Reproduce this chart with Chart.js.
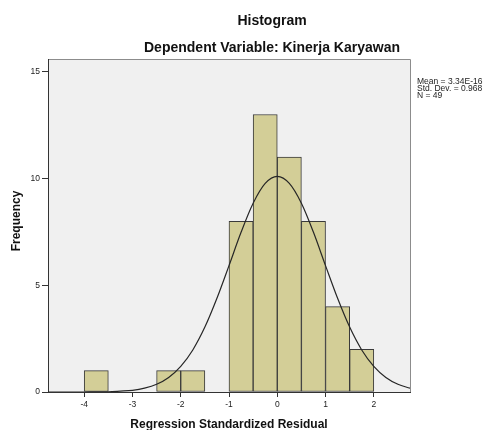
<!DOCTYPE html>
<html>
<head>
<meta charset="utf-8">
<script src="https://cdn.jsdelivr.net/npm/chart.js@4/dist/chart.umd.min.js"></script>
<style>
  html, body { margin: 0; padding: 0; background: #ffffff; }
  #wrap { width: 489px; height: 430px; position: relative; }
</style>
</head>
<body>
<div id="wrap"><canvas id="c" width="489" height="430"></canvas></div>
<script>
// ---- data ----
const binCenters = [-3.75, -2.25, -1.75, -0.75, -0.25, 0.25, 0.75, 1.25, 1.75];
const binCounts  = [1, 1, 1, 8, 13, 11, 8, 4, 2];

// normal curve overlay
const curveX = [-4.75, -4.5, -4.25, -4, -3.75, -3.5, -3.25, -3, -2.75, -2.5, -2.25, -2, -1.75, -1.5, -1.25, -1,
                -0.75, -0.5, -0.25, 0, 0.25, 0.5, 0.75, 1, 1.25, 1.5, 1.75, 2, 2.25, 2.5, 2.75];
const curveY = [0.00, 0.00, 0.00, 0.00, 0.01, 0.01, 0.04, 0.08, 0.18, 0.36, 0.68, 1.20, 1.97, 3.04, 4.39, 5.92,
                7.48, 8.84, 9.77, 10.10, 9.77, 8.84, 7.48, 5.92, 4.39, 3.04, 1.97, 1.20, 0.68, 0.36, 0.18];

const xTicks = [-4, -3, -2, -1, 0, 1, 2];
const yTicks = [0, 5, 10, 15];

const titleText = "Histogram";
const subtitleText = "Dependent Variable: Kinerja Karyawan";
const xTitle = "Regression Standardized Residual";
const yTitle = "Frequency";
const statsLines = ["Mean = 3.34E-16", "Std. Dev. = 0.968", "N = 49"];

const FONT = "'Liberation Sans', Arial, Helvetica, sans-serif";

const barData = binCenters.map((x, i) => ({ x: x, y: binCounts[i] }));
const curveData = curveX.map((x, i) => ({ x: x, y: curveY[i] }));

const decor = {
  id: 'decor',
  beforeDraw(chart) {
    const { ctx, chartArea: a } = chart;
    ctx.save();
    ctx.fillStyle = '#f0f0f0';
    ctx.fillRect(a.left, a.top, a.right - a.left, a.bottom - a.top);
    ctx.strokeStyle = '#8c8c8c';
    ctx.lineWidth = 1;
    ctx.beginPath();
    ctx.moveTo(a.left, a.top + 0.5);
    ctx.lineTo(a.right + 0.5, a.top + 0.5);
    ctx.lineTo(a.right + 0.5, a.bottom);
    ctx.stroke();
    ctx.restore();
  },
  afterDraw(chart) {
    const { ctx, chartArea: a } = chart;
    ctx.save();
    ctx.fillStyle = '#111';
    ctx.textAlign = 'center';
    ctx.textBaseline = 'middle';
    ctx.font = 'bold 14px ' + FONT;
    ctx.fillText(titleText, 272, 21);
    ctx.fillText(subtitleText, 272, 48);

    ctx.font = 'bold 12px ' + FONT;
    ctx.textBaseline = 'alphabetic';
    ctx.fillText(xTitle, (a.left + a.right) / 2, 428);

    ctx.save();
    ctx.translate(20, 221);
    ctx.rotate(-Math.PI / 2);
    ctx.fillText(yTitle, 0, 0);
    ctx.restore();

    ctx.font = '8.5px ' + FONT;
    ctx.textAlign = 'left';
    ctx.textBaseline = 'middle';
    ctx.fillStyle = '#222';
    statsLines.forEach((s, i) => ctx.fillText(s, 417, 82 + i * 7));
    ctx.restore();
  }
};

new Chart(document.getElementById('c'), {
  type: 'bar',
  data: {
    datasets: [
      {
        type: 'line',
        data: curveData,
        borderColor: '#262626',
        borderWidth: 1.2,
        pointRadius: 0,
        fill: false,
        cubicInterpolationMode: 'monotone',
        order: 0
      },
      {
        type: 'bar',
        data: barData,
        backgroundColor: '#d3ce97',
        borderColor: '#3a3a3a',
        borderWidth: 1,
        borderSkipped: false,
        barPercentage: 1,
        categoryPercentage: 1,
        order: 1
      }
    ]
  },
  options: {
    responsive: false,
    animation: false,
    events: [],
    layout: { padding: { top: 59, right: 79, left: 0, bottom: 0 } },
    plugins: { legend: { display: false }, tooltip: { enabled: false }, title: { display: false } },
    scales: {
      x: {
        type: 'linear',
        min: -4.75,
        max: 2.75,
        offset: false,
        afterBuildTicks: s => { s.ticks = xTicks.map(v => ({ value: v })); },
        afterFit: s => { s.height = 38; },
        grid: { drawOnChartArea: false, drawTicks: true, tickLength: 5, color: '#333', offset: false },
        border: { display: true, color: '#333', width: 1 },
        ticks: { font: { size: 8.5, family: FONT }, color: '#222', padding: 3, maxRotation: 0, autoSkip: false }
      },
      y: {
        type: 'linear',
        min: 0,
        max: 15.6,
        afterBuildTicks: s => { s.ticks = yTicks.map(v => ({ value: v })); },
        afterFit: s => { s.width = 48; },
        grid: { drawOnChartArea: false, drawTicks: true, tickLength: 6, color: '#333' },
        border: { display: true, color: '#333', width: 1 },
        ticks: { font: { size: 8.5, family: FONT }, color: '#222', padding: 2 }
      }
    }
  },
  plugins: [decor]
});
</script>
</body>
</html>
